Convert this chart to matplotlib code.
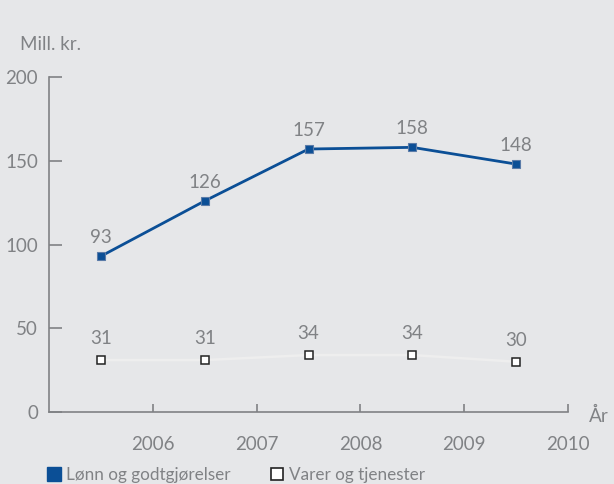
import matplotlib
matplotlib.use("Agg")
import matplotlib.pyplot as plt
from matplotlib.lines import Line2D

years = [2006, 2007, 2008, 2009, 2010]
lonn = [93, 126, 157, 158, 148]
varer = [31, 31, 34, 34, 30]
yticks = [0, 50, 100, 150, 200]
series_names = ["Lønn og godtgjørelser", "Varer og tjenester"]

BG = "#e6e7e9"
GREY = "#808285"
BLUE = "#0b4f96"
FS = 13.5

plt.rcParams['font.family'] = ['Lato', 'DejaVu Sans']

fig = plt.figure(figsize=(6.14, 4.84), dpi=100, facecolor=BG)
ax = fig.add_axes([49/614, 72/484, (568-49)/614, (412-77)/484], facecolor=BG)

xpos = [y - 0.5 for y in years]
ax.plot(xpos, varer, color="#eeeeee", lw=1.8, marker='s', ms=6,
        mfc="white", mec="#222222", mew=1.1, zorder=3, clip_on=False)
ax.plot(xpos, lonn, color=BLUE, lw=2.0, marker='s', ms=6,
        mfc=BLUE, mec="#5a7ba8", mew=0.8, zorder=4, clip_on=False)

for x, v in zip(xpos, lonn):
    ax.annotate(str(v), (x, v), xytext=(0, 13.5), textcoords='offset points',
                ha='center', va='center', color=GREY, fontsize=FS)
for x, v in zip(xpos, varer):
    ax.annotate(str(v), (x, v), xytext=(0, 15.5), textcoords='offset points',
                ha='center', va='center', color=GREY, fontsize=FS)

ax.set_xlim(2005, 2010)
ax.set_ylim(0, 200)
ax.set_xticks(years)
ax.set_xticklabels([str(y) for y in years])
ax.set_yticks(yticks)
ax.set_yticklabels([str(t) for t in yticks])

for s in ['top', 'right']:
    ax.spines[s].set_visible(False)
for s in ['left', 'bottom']:
    ax.spines[s].set_color(GREY)
    ax.spines[s].set_linewidth(1.2)

ax.tick_params(axis='y', direction='in', length=9, width=1.2, color=GREY,
               labelcolor=GREY, labelsize=FS, pad=8)
ax.tick_params(axis='x', direction='in', length=6, width=1.2, color=GREY,
               labelcolor=GREY, labelsize=FS, pad=17)

fig.text(20/614, 1 - 45/484, "Mill. kr.", color=GREY, fontsize=FS,
         ha='left', va='center')
fig.text(589/614, 1 - 416/484, "År", color=GREY, fontsize=FS,
         ha='left', va='center')

handles = [
    Line2D([], [], ls='none', marker='s', ms=9.5, mfc=BLUE, mec=BLUE),
    Line2D([], [], ls='none', marker='s', ms=8.5, mfc="white", mec="#222222", mew=1.2),
]
fig.legend(handles, series_names, loc='lower left', bbox_to_anchor=(32/614, -14/484),
           ncol=2, frameon=False, fontsize=12.3, labelcolor=GREY,
           handlelength=0.8, handletextpad=0.3, columnspacing=2.3)

fig.savefig("out.png", dpi=100, facecolor=BG)
